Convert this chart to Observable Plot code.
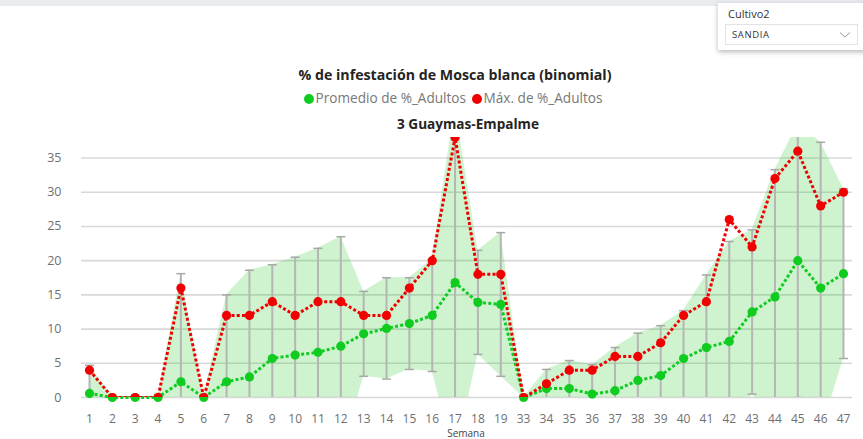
<!DOCTYPE html>
<html>
<head>
<meta charset="utf-8">
<script src="https://cdn.jsdelivr.net/npm/d3@7"></script>
<script src="https://cdn.jsdelivr.net/npm/@observablehq/plot@0.6"></script>
<style>
  html, body { margin: 0; padding: 0; background: #fff; }
  body { width: 863px; height: 439px; overflow: hidden; position: relative; font-family: "Open Sans", "Segoe UI", sans-serif; }
  .abs { position: absolute; }
  #topstrip { left: 0; top: 0; width: 863px; height: 6px; background: #e9ecef; }
  #card { left: 718px; top: 3px; width: 150px; height: 47px; background: #fff; box-shadow: 0 2px 5px rgba(0,0,0,0.28); }
  #cardlabel { left: 728px; top: 6px; font-size: 11px; color: #333; }
  #select { left: 725px; top: 24px; width: 131px; height: 19px; border: 1px solid #e3e3e3; background: #fff; }
  #selecttext { left: 6px; top: 3px; font-size: 9.5px; letter-spacing: 0.6px; color: #333; }
  #title { left: 205px; width: 500px; top: 65px; text-align: center; font-weight: 700; font-size: 14.2px; color: #252423; }
  #legend { left: 203px; width: 500px; top: 88px; text-align: center; font-size: 13.6px; color: #777; white-space: nowrap; }
  .sw { display: inline-block; width: 10px; height: 10px; border-radius: 50%; margin-right: 2px; vertical-align: -0.5px; }
  #subtitle { left: 218px; width: 500px; top: 114px; text-align: center; font-weight: 700; font-size: 13.6px; color: #252423; }
  #chart { left: 0; top: 130px; width: 863px; }
  #xlabel { left: 366px; width: 200px; top: 428px; text-align: center; font-size: 10px; line-height: 10px; color: #444; }
</style>
</head>
<body>
<div id="topstrip" class="abs"></div>
<div id="card" class="abs"></div>
<div id="cardlabel" class="abs">Cultivo2</div>
<div id="select" class="abs">
  <div id="selecttext" class="abs">SANDIA</div>
  <svg class="abs" style="left:113px;top:6px" width="12" height="8"><path d="M1,1.5 L6,6 L11,1.5" fill="none" stroke="#999" stroke-width="1"/></svg>
</div>
<div id="title" class="abs">% de infestación de Mosca blanca (binomial)</div>
<div id="legend" class="abs"><span class="sw" style="background:#10cc20"></span>Promedio de %_Adultos <span class="sw" style="background:#f00000;margin-left:2px"></span>Máx. de %_Adultos</div>
<div id="subtitle" class="abs">3 Guaymas-Empalme</div>
<div id="chart" class="abs"></div>
<div id="xlabel" class="abs">Semana</div>
<script>
// Semana (categorías del eje X)
const weeks = ["1","2","3","4","5","6","7","8","9","10","11","12","13","14","15","16","17","18","19",
               "33","34","35","36","37","38","39","40","41","42","43","44","45","46","47"];
// Promedio de %_Adultos
const promedio = [0.6,0,0,0,2.3,0,2.3,3.0,5.7,6.2,6.6,7.5,9.3,10.1,10.8,12.0,16.8,13.9,13.6,
                  0,1.3,1.3,0.5,1.0,2.5,3.2,5.7,7.3,8.2,12.5,14.7,20.0,16.0,18.1];
// Máx. de %_Adultos
const maximo = [4,0,0,0,16,0,12,12,14,12,14,14,12,12,16,20,38,18,18,
                0,2,4,4,6,6,8,12,14,26,22,32,36,28,30];
// Desviación estándar (banda y barras de error)
const desv = [4.1,0,0,0,15.8,0,12.7,15.6,13.7,14.3,15.2,16.0,6.2,7.4,6.7,8.2,25.8,7.6,10.5,
              0,2.8,4.1,4.3,6.3,6.9,7.3,7.0,10.6,14.6,12.0,18.6,20.0,21.3,12.4];
// Marcas del eje Y
const yTicks = [0,5,10,15,20,25,30,35];

const rows = weeks.map((w, i) => ({
  week: w, mean: promedio[i], max: maximo[i], sd: desv[i],
  lo: promedio[i] - desv[i], hi: promedio[i] + desv[i]
}));

const GREEN = "#10cc20";
const RED = "#f00000";
const capSymbol = { draw(ctx) { ctx.moveTo(-4.5, 0); ctx.lineTo(4.5, 0); } };

const chart = Plot.plot({
  width: 863,
  height: 309,
  marginTop: 7,
  marginBottom: 42,
  marginLeft: 81,
  marginRight: 11,
  style: { fontFamily: "Open Sans, sans-serif", fontSize: "12.5px", color: "#707070", background: "transparent" },
  x: { type: "point", domain: weeks, range: [89, 843], padding: 0, round: false, tickSize: 0, tickPadding: 17, label: null },
  y: { domain: [0, 38], ticks: yTicks, tickSize: 0, tickPadding: 20, label: null },
  marks: [
    Plot.ruleY(yTicks, { stroke: "#d8d8d8", strokeWidth: 1.6 }),
    Plot.areaY(rows, { x: "week", y1: "lo", y2: "hi", fill: "#1ec81e", fillOpacity: 0.22, clip: true }),
    Plot.ruleX(rows.filter(d => d.sd > 0), { x: "week", y1: "lo", y2: "hi", stroke: "#b5b5b5", strokeWidth: 2, clip: true }),
    Plot.dot(rows.filter(d => d.sd > 0), { x: "week", y: "hi", symbol: capSymbol, stroke: "#a8a8a8", strokeWidth: 1.5, fill: "none", clip: true }),
    Plot.dot(rows.filter(d => d.sd > 0), { x: "week", y: "lo", symbol: capSymbol, stroke: "#a8a8a8", strokeWidth: 1.5, fill: "none", clip: true }),
    Plot.line(rows, { x: "week", y: "mean", stroke: GREEN, strokeWidth: 3, strokeDasharray: "3,2.2", strokeLinecap: "butt", strokeLinejoin: "miter" }),
    Plot.line(rows, { x: "week", y: "max", stroke: RED, strokeWidth: 3, strokeDasharray: "3,2.2", strokeLinecap: "butt", strokeLinejoin: "miter", clip: true }),
    Plot.dot(rows, { x: "week", y: "mean", r: 4.6, fill: GREEN }),
    Plot.dot(rows, { x: "week", y: "max", r: 4.6, fill: RED, clip: true })
  ]
});
chart.querySelectorAll('g[aria-label^="x-axis"] text').forEach(t => t.setAttribute("font-size", "12px"));
document.getElementById("chart").appendChild(chart);
</script>
</body>
</html>
